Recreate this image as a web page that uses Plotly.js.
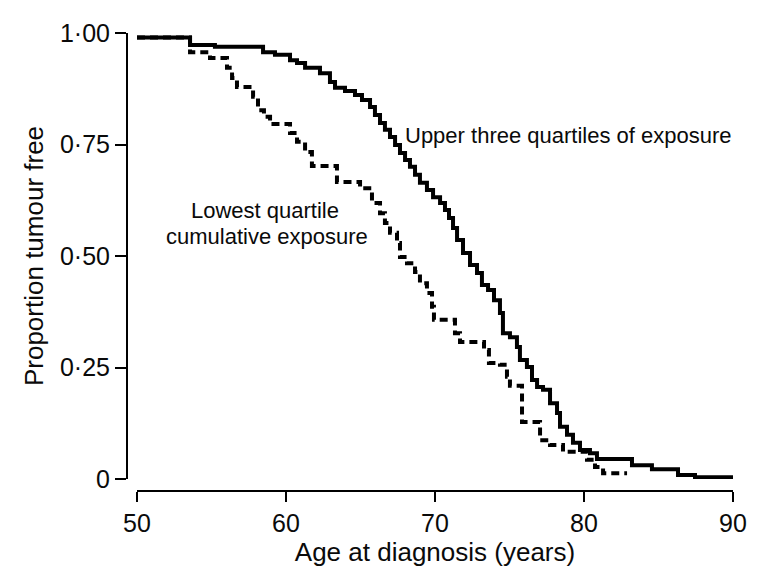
<!DOCTYPE html>
<html>
<head>
<meta charset="utf-8">
<script src="https://cdn.plot.ly/plotly-3.0.1.min.js"></script>
<style>html,body{margin:0;padding:0;background:#fff;}#chart{width:762px;height:587px;}</style>
</head>
<body>
<div id="chart"></div>
<script>
// Upper three quartiles of exposure (solid) — Kaplan–Meier steps
const upperAge = [50, 53.56, 55.23, 58.46, 59.26, 60.27, 60.74, 61.28, 62.28, 62.95, 63.29, 63.96, 64.63, 65.10, 65.64, 65.97, 66.31, 66.64, 66.98, 67.32, 67.65, 67.99, 68.32, 68.66, 68.99, 69.46, 69.87, 70.34, 70.67, 70.94, 71.21, 71.48, 71.88, 72.35, 72.82, 73.15, 73.56, 73.96, 74.36, 74.56, 75.03, 75.50, 75.70, 76.17, 76.51, 76.85, 77.25, 77.72, 78.19, 78.39, 78.86, 79.26, 79.73, 80.40, 80.87, 83.22, 84.56, 86.31, 87.45, 90];
const upperSurv = [0.99, 0.973, 0.969, 0.957, 0.951, 0.939, 0.933, 0.922, 0.910, 0.890, 0.877, 0.870, 0.861, 0.850, 0.834, 0.816, 0.798, 0.783, 0.767, 0.749, 0.731, 0.715, 0.700, 0.682, 0.664, 0.648, 0.632, 0.619, 0.603, 0.585, 0.563, 0.536, 0.507, 0.480, 0.462, 0.435, 0.424, 0.401, 0.372, 0.327, 0.318, 0.296, 0.267, 0.251, 0.222, 0.206, 0.200, 0.170, 0.148, 0.117, 0.099, 0.081, 0.065, 0.058, 0.045, 0.031, 0.022, 0.009, 0.004, 0.004];

// Lowest quartile cumulative exposure (dashed)
const lowestAge = [50, 53.56, 54.90, 56.04, 56.38, 56.71, 57.79, 58.12, 58.52, 58.93, 60.27, 60.74, 61.28, 61.74, 63.42, 64.97, 65.77, 66.31, 66.64, 66.98, 67.45, 67.65, 68.12, 68.66, 68.99, 69.46, 69.80, 69.93, 71.34, 71.68, 73.29, 73.62, 74.36, 74.83, 75.03, 75.84, 77.05, 77.72, 78.59, 80.20, 80.74, 81.28, 82.89];
const lowestSurv = [0.99, 0.957, 0.944, 0.922, 0.899, 0.879, 0.857, 0.827, 0.812, 0.796, 0.776, 0.756, 0.733, 0.702, 0.666, 0.652, 0.619, 0.596, 0.574, 0.552, 0.529, 0.498, 0.484, 0.464, 0.439, 0.417, 0.386, 0.357, 0.327, 0.307, 0.289, 0.260, 0.256, 0.229, 0.209, 0.128, 0.087, 0.076, 0.061, 0.043, 0.027, 0.013, 0.013];

const xTickVals = [50, 60, 70, 80, 90];
const xTickText = ['50', '60', '70', '80', '90'];
const yTickVals = [0, 0.25, 0.5, 0.75, 1];
const yTickText = ['0', '0·25', '0·50', '0·75', '1·00'];

const FONT = 'Liberation Sans, Arial, sans-serif';
const INK = '#0a0a0a';

const traces = [
  {x: upperAge, y: upperSurv, type: 'scatter', mode: 'lines', line: {shape: 'hv', color: '#000', width: 4}, cliponaxis: false, hoverinfo: 'skip', name: 'Upper three quartiles of exposure'},
  {x: lowestAge, y: lowestSurv, type: 'scatter', mode: 'lines', line: {shape: 'hv', color: '#000', width: 4, dash: '8px,5px'}, cliponaxis: false, hoverinfo: 'skip', name: 'Lowest quartile cumulative exposure'}
];

const layout = {
  width: 762, height: 587,
  margin: {l: 127, r: 29, t: 33, b: 96, pad: 0},
  paper_bgcolor: '#fff', plot_bgcolor: '#fff',
  showlegend: false,
  font: {family: FONT, color: INK, size: 22},
  xaxis: {
    domain: [0.0165, 1], anchor: 'free', position: 0,
    range: [50, 90], tickvals: xTickVals, ticktext: xTickText,
    showgrid: false, zeroline: false, showline: true, linecolor: '#000', linewidth: 2,
    ticks: 'outside', ticklen: 10, tickwidth: 2, tickcolor: '#000',
    tickfont: {size: 25, family: FONT, color: INK},
    title: {text: 'Age at diagnosis (years)', font: {size: 26, family: FONT, color: INK}, standoff: 4}
  },
  yaxis: {
    domain: [0.0262, 1], anchor: 'free', position: 0,
    range: [0, 1], tickvals: yTickVals, ticktext: yTickText,
    showgrid: false, zeroline: false, showline: true, linecolor: '#000', linewidth: 2,
    ticks: 'outside', ticklen: 11, tickwidth: 2, tickcolor: '#000',
    tickfont: {size: 25, family: FONT, color: INK},
    title: {text: 'Proportion tumour free', font: {size: 26, family: FONT, color: INK}, standoff: 8}
  },
  annotations: [
    {x: 67.85, y: 0.771, xref: 'x', yref: 'y', text: 'Upper three quartiles of exposure', showarrow: false, xanchor: 'left', yanchor: 'middle', font: {size: 22, family: FONT, color: INK}},
    {x: 58.6, y: 0.603, xref: 'x', yref: 'y', text: 'Lowest quartile', showarrow: false, xanchor: 'center', yanchor: 'middle', font: {size: 22, family: FONT, color: INK}},
    {x: 58.7, y: 0.543, xref: 'x', yref: 'y', text: 'cumulative exposure', showarrow: false, xanchor: 'center', yanchor: 'middle', font: {size: 22, family: FONT, color: INK}}
  ]
};

Plotly.newPlot('chart', traces, layout, {displayModeBar: false, staticPlot: true});
</script>
</body>
</html>
